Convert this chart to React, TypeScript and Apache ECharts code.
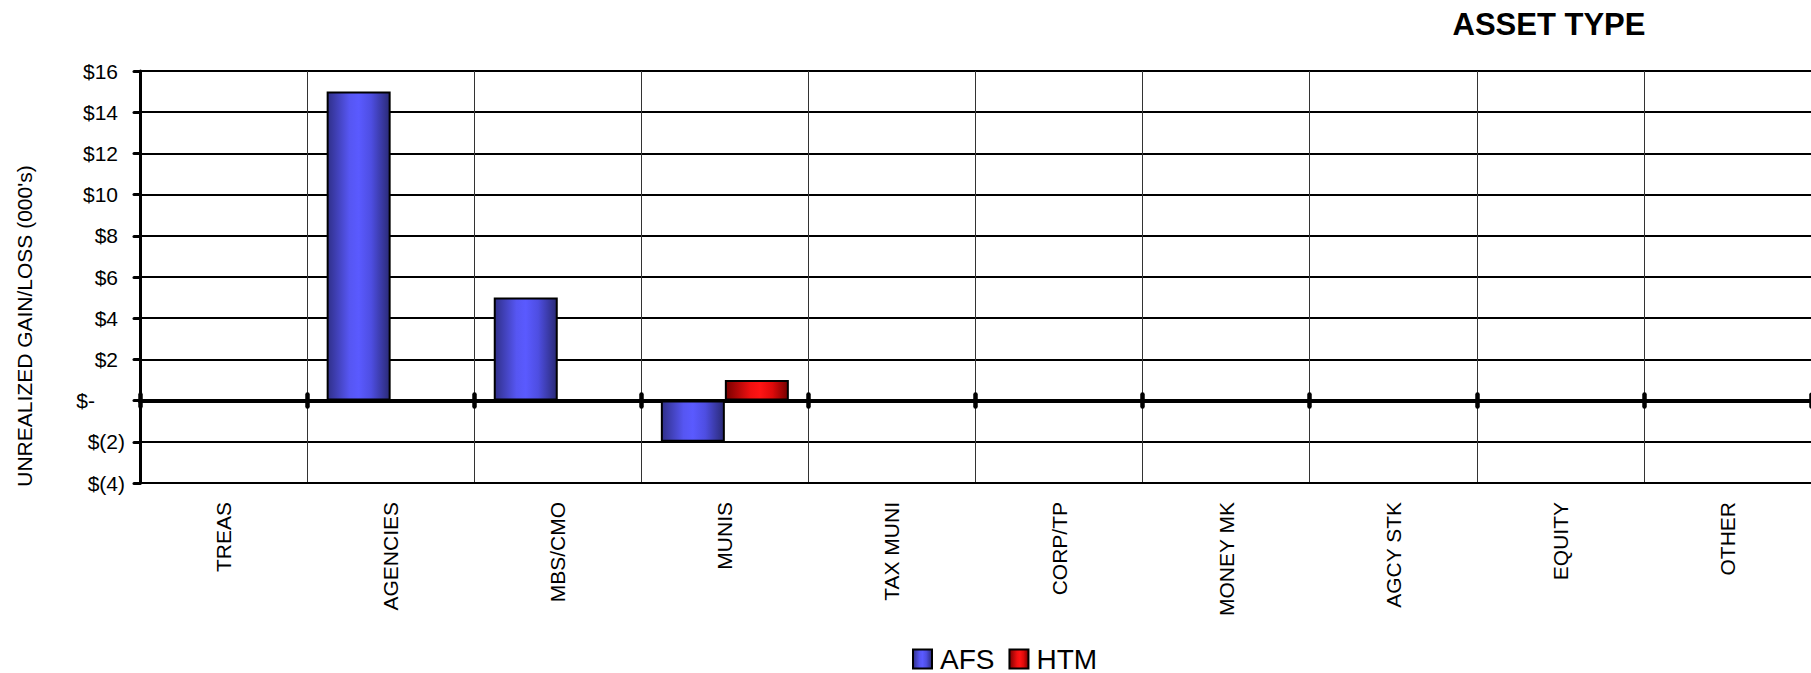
import React, { useEffect, useRef } from "react";
import * as echarts from "echarts";

const categories = ["TREAS", "AGENCIES", "MBS/CMO", "MUNIS", "TAX MUNI", "CORP/TP", "MONEY MK", "AGCY STK", "EQUITY", "OTHER"];
const afsValues = [0, 15, 5, -2, 0, 0, 0, 0, 0, 0];
const htmValues = [0, 0, 0, 1, 0, 0, 0, 0, 0, 0];
const seriesNames = ["AFS", "HTM"];
const yMin = -4;
const yMax = 16;
const yStep = 2;
const chartTitle = "ASSET TYPE";
const yAxisTitle = "UNREALIZED GAIN/LOSS (000's)";

const FONT = '"Liberation Sans", Arial, Helvetica, sans-serif';

const blueFill = () =>
  new echarts.graphic.LinearGradient(0, 0, 1, 0, [
    { offset: 0, color: "#30308a" },
    { offset: 0.35, color: "#5656f2" },
    { offset: 0.5, color: "#5a5aff" },
    { offset: 0.7, color: "#4e4ee2" },
    { offset: 1, color: "#2a2a76" },
  ]);
const redFill = () =>
  new echarts.graphic.LinearGradient(0, 0, 1, 0, [
    { offset: 0, color: "#7a0000" },
    { offset: 0.4, color: "#f01010" },
    { offset: 0.55, color: "#ff1414" },
    { offset: 0.75, color: "#de0a0a" },
    { offset: 1, color: "#750000" },
  ]);

const fmt = (v: number) => (v > 0 ? `{p|$${v}}` : v < 0 ? `{n|$(${-v})}` : `{z|$-}`);

export default function App() {
  const ref = useRef<HTMLDivElement>(null);
  useEffect(() => {
    if (!ref.current) return;
    const chart = echarts.init(ref.current, null, { renderer: "svg" });
    const zeroAxis = (inside: boolean) => ({
      type: "category",
      data: categories,
      position: "bottom",
      boundaryGap: true,
      axisLine: { show: true, onZero: true, onZeroAxisIndex: 0, lineStyle: { color: "#000", width: 4 } },
      axisTick: { show: true, inside, length: 6, interval: 0, lineStyle: { color: "#000", width: 4.5, cap: "round" } },
      axisLabel: { show: false },
      splitLine: { show: false },
    });
    const labelStyle = { fontFamily: FONT, fontSize: 21, color: "#000" };
    chart.setOption({
      animation: false,
      backgroundColor: "#fff",
      grid: { left: 140, top: 71, width: 1673, height: 412, containLabel: false },
      xAxis: [
        {
          type: "category",
          data: categories,
          position: "bottom",
          boundaryGap: true,
          axisLine: { show: true, onZero: false, lineStyle: { color: "#000", width: 2 } },
          axisTick: { show: false },
          axisLabel: { show: true, interval: 0, rotate: 90, margin: 19, ...labelStyle },
          splitLine: { show: true, interval: 0, lineStyle: { color: "#333", width: 1 } },
        },
        zeroAxis(false),
        zeroAxis(true),
      ],
      yAxis: {
        type: "value",
        min: yMin,
        max: yMax,
        interval: yStep,
        axisLine: { show: true, lineStyle: { color: "#000", width: 3 } },
        axisTick: { show: true, length: 6, lineStyle: { color: "#000", width: 3, cap: "round" } },
        axisLabel: {
          margin: 15,
          formatter: fmt,
          ...labelStyle,
          rich: {
            p: { ...labelStyle, padding: [0, 7, 0, 0] },
            n: { ...labelStyle },
            z: { ...labelStyle, padding: [0, 30, 0, 0] },
          },
        },
        splitLine: { show: true, lineStyle: { color: "#000", width: 2 } },
      },
      legend: {
        left: 912,
        top: 645,
        padding: 0,
        itemWidth: 19,
        itemHeight: 19,
        itemGap: 14,
        icon: "rect",
        textStyle: { fontFamily: FONT, fontSize: 28, color: "#000", lineHeight: 28, padding: [0, 0, 0, 3] },
        data: seriesNames,
      },
      graphic: [
        {
          type: "text",
          x: 1549,
          y: 24,
          style: { text: chartTitle, font: `bold 31px ${FONT}`, fill: "#000", textAlign: "center", textVerticalAlign: "middle" },
        },
        {
          type: "text",
          x: 24,
          y: 326,
          rotation: Math.PI / 2,
          style: { text: yAxisTitle, font: `21px ${FONT}`, fill: "#000", textAlign: "center", textVerticalAlign: "middle" },
        },
      ],
      series: [
        {
          name: seriesNames[0],
          type: "bar",
          data: afsValues,
          barWidth: 64,
          barGap: "0%",
          itemStyle: { color: blueFill(), borderColor: "#000", borderWidth: 2 },
        },
        {
          name: seriesNames[1],
          type: "bar",
          data: htmValues,
          barWidth: 64,
          barGap: "0%",
          itemStyle: { color: redFill(), borderColor: "#000", borderWidth: 2 },
        },
      ],
    });
    return () => chart.dispose();
  }, []);
  return <div ref={ref} style={{ position: "fixed", left: 0, top: 0, width: 1811, height: 673 }} />;
}
